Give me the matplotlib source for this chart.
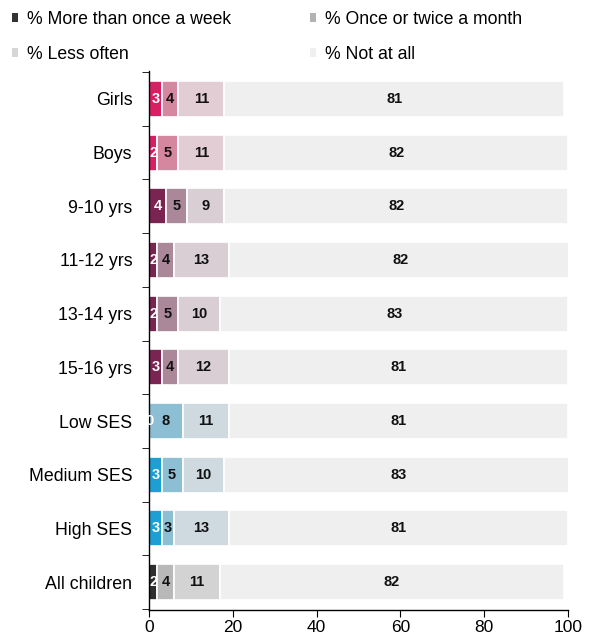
import matplotlib
matplotlib.use("Agg")
import matplotlib.pyplot as plt
from matplotlib.patches import Patch
import numpy as np

plt.rcParams['font.family'] = ['Liberation Sans', 'DejaVu Sans']

categories = ["Girls", "Boys", "9-10 yrs", "11-12 yrs", "13-14 yrs", "15-16 yrs",
              "Low SES", "Medium SES", "High SES", "All children"]
more_than_weekly = [3, 2, 4, 2, 2, 3, 0, 3, 3, 2]
once_twice_month = [4, 5, 5, 4, 5, 4, 8, 5, 3, 4]
less_often = [11, 11, 9, 13, 10, 12, 11, 10, 13, 11]
not_at_all = [81, 82, 82, 82, 83, 81, 81, 83, 81, 82]
series_names = ["% More than once a week", "% Once or twice a month", "% Less often", "% Not at all"]

pink = ["#d81f63", "#d4879f", "#e2cdd5", "#efefef"]
plum = ["#7a2452", "#ab8899", "#d8ced4", "#efefef"]
blue = ["#1e9fd3", "#8cbfd3", "#ced9e0", "#efefef"]
grey = ["#2e2e2e", "#b8b8b8", "#d3d3d3", "#efefef"]
row_colors = [pink, pink, plum, plum, plum, plum, blue, blue, blue, grey]
legend_colors = ["#333333", "#b3b3b3", "#d6d6d6", "#efefef"]

fig = plt.figure(figsize=(5.93, 6.37), dpi=100)
ax = fig.add_axes([0.2513, 0.0424, 0.7066, 0.8461])

series = [more_than_weekly, once_twice_month, less_often, not_at_all]
y = np.arange(len(categories))
left = np.zeros(len(categories))
for s_idx, vals in enumerate(series):
    vals = np.array(vals, dtype=float)
    cols = [row_colors[i][s_idx] for i in range(len(categories))]
    ax.barh(y, vals, left=left, height=0.67, color=cols, edgecolor="white", linewidth=1.2)
    for i, v in enumerate(vals):
        tc = "white" if s_idx == 0 else "#111111"
        ax.text(left[i] + v / 2, y[i], f"{int(v)}", ha="center", va="center",
                fontsize=10.5, fontweight="bold", color=tc)
    left += vals

ax.set_xlim(0, 100)
ax.set_ylim(9.52, -0.52)
ax.set_xticks([0, 20, 40, 60, 80, 100])
ax.tick_params(axis="x", labelsize=12.5, length=5, direction="out", pad=2)
ax.set_yticks(y)
ax.set_yticklabels(categories, fontsize=12.8)
ax.tick_params(axis="y", which="major", length=0, pad=12)
ax.set_yticks(np.arange(-0.5, 10.0, 1.0), minor=True)
ax.tick_params(axis="y", which="minor", length=5, direction="out")
for sp in ["top", "right"]:
    ax.spines[sp].set_visible(False)
ax.spines["left"].set_linewidth(1.0)
ax.spines["bottom"].set_linewidth(1.0)

handles = [Patch(facecolor=c, edgecolor="none") for c in legend_colors]
# row-wise ordering for a 2-column legend
order = [0, 2, 1, 3]
fig.legend([handles[i] for i in order], [series_names[i] for i in order],
           loc="upper left", bbox_to_anchor=(12 / 593, 1 - 11 / 637),
           ncol=2, frameon=False, fontsize=12.7, handlelength=0.36, handleheight=0.36,
           handletextpad=0.5, columnspacing=4.45, borderaxespad=0.0, borderpad=0.0,
           labelspacing=1.0)

fig.savefig("out.png", dpi=100)
